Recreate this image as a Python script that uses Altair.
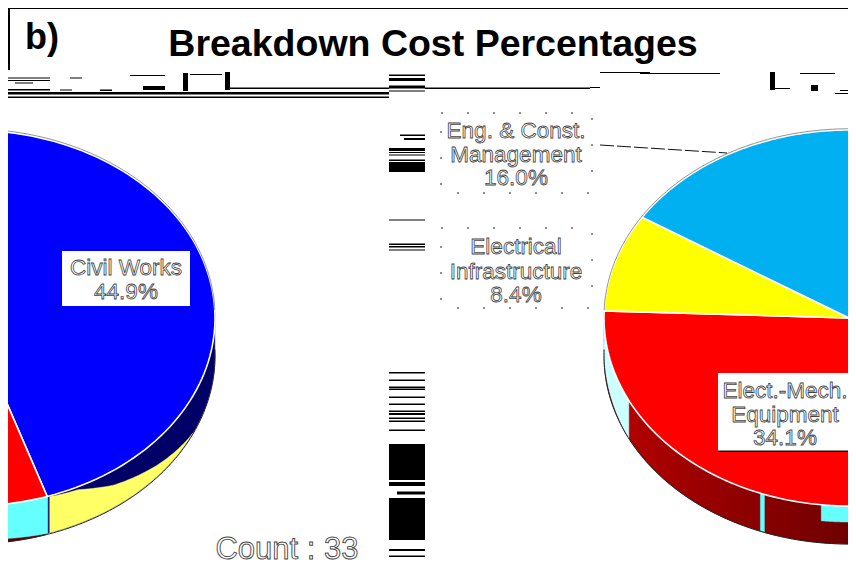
import numpy as np
import pandas as pd
import altair as alt

# drawn slice shares (percent of the ellipse), clockwise from 12 o'clock
slice_names = ["Civil Works", "Elect.-Mech. Equipment", "Electrical Infrastructure", "Eng. & Const. Management"]
slice_share = [44.9, 30.7, 8.4, 16.0]
slice_color = ["#0000FF", "#FF0000", "#FFFF00", "#00B0F0"]

pie_cx = [-30, 849]
pie_cy = 318
pie_rx = 245
pie_ry = 188

# side wall pieces: start deg, end deg, inner offset at both ends, outer offset, colour
wall_pieces = [
    (88, 162, 0, 0, 37, 37, "#000066"),
    (162, 272, 0, 0, 38, 38, "grad"),
    (244, 272, 0, 0, 38, 30, "#CCFFFF"),
    (161.5, 174, 0, 0, 37, 34, "#66FFFF"),
    (178, 186.5, 0, 0, 16, 16, "#66FFFF"),
    (200.2, 201.2, 0, 0, 38, 38, "#66FFFF"),
]
# light-yellow wall band: angle knots and upper-edge offset
band_deg = [114.6, 130, 144, 153.8, 161]
band_inner = [37, 26, 15, 3, 1]
band_outer = 37

# decoding debris: x, x2, y, y2
stripe_y = [(74.5, 76), (78, 81), (85.5, 88.5), (90.5, 91.5), (148, 151), (152, 153), (154.5, 155.5),
            (159.5, 161), (162, 172), (219.5, 220.5), (243.5, 245), (246, 247.5), (249.5, 250.5),
            (372, 373.5), (379.5, 381), (386.5, 388), (388.5, 390), (396.5, 398), (403.5, 405),
            (410.5, 412), (413, 415), (417.5, 419), (420.5, 422), (429.5, 431), (444, 480),
            (482, 486), (498, 540), (549, 551), (555.5, 557)]
extra_bars = [(400, 425, 134.5, 136), (404, 425, 138, 140), (397, 425, 491.5, 494.5),
              (8, 389, 92, 94.5), (8, 389, 96.5, 98), (230, 389, 87.5, 89), (425, 590, 87.5, 89),
              (8, 50, 77.5, 78.5), (15, 33, 82.5, 83.5), (8, 50, 80, 81), (8, 50, 89, 90.5),
              (70, 82, 77.5, 78.5), (60, 72, 89.5, 90.5), (100, 112, 89.5, 91), (130, 165, 75, 76),
              (143, 165, 86, 90), (183, 188, 73, 91), (190, 222, 74, 75), (225, 230, 72, 90),
              (230, 240, 88, 89), (600, 650, 72, 73), (640, 720, 73, 74), (770, 775, 72, 90),
              (775, 790, 88, 89), (800, 835, 73, 74), (811, 818, 85, 91), (835, 856, 93, 94),
              (840, 856, 90, 91), (590, 600, 87, 88)]

# white label boxes: x, x2, y, y2
box_plain = [(62, 190, 251, 306)]
box_dotted = [(441, 592, 113, 193), (441, 592, 228, 308)]
box_elect = [(718, 854, 373, 451)]

# label text: x, baseline-centre y, text, size
label_x = [126, 126, 516, 516, 516, 516, 516, 516, 785, 785, 785]
label_y = [268, 292, 131, 155, 178, 247, 272, 295, 391, 415, 438]
label_t = ["Civil Works", "44.9%", "Eng. & Const.", "Management", "16.0%", "Electrical", "Infrastructure",
           "8.4%", "Elect.-Mech.", "Equipment", "34.1%"]

sx = alt.Scale(domain=[8, 848], range=[0, 840], nice=False, zero=False)
sy = alt.Scale(domain=[8, 565], range=[0, 557], nice=False, zero=False)
X = lambda f="x": alt.X(f"{f}:Q", scale=sx, axis=None)
Y = lambda f="y": alt.Y(f"{f}:Q", scale=sy, axis=None)


def rim(cx, t, off=0.0):
    r = np.radians(t)
    return cx + pie_rx * np.sin(r), pie_cy - pie_ry * np.cos(r) + off


def poly(xs, ys, **mark):
    df = pd.DataFrame({"x": xs, "y": ys, "i": range(len(xs))})
    return alt.Chart(df).mark_line(clip=True, **mark).encode(x=X(), y=Y(), order="i:Q")


def wall(cx, a, b, i0, i1, o0, o1, color, edge=None):
    t = np.linspace(a, b, 50)
    xo, yo = rim(cx, t, np.linspace(o0, o1, 50))
    xi, yi = rim(cx, t[::-1], np.linspace(i1, i0, 50))
    return poly(list(xo) + list(xi) + [xo[0]], list(yo) + list(yi) + [yo[0]], fill=color, stroke=edge or color, strokeWidth=0.5)


gradient = alt.Gradient(gradient="linear", x1=1, x2=0, y1=0, y2=0,
                        stops=[alt.GradientStop(color="#580000", offset=0),
                               alt.GradientStop(color="#B80000", offset=1)])

layers = []
bars = pd.DataFrame([(389, 425, a, b) for a, b in stripe_y] + extra_bars, columns=["x", "x2", "y", "y2"])
layers.append(alt.Chart(bars).mark_rect(color="#000000", clip=True).encode(x=X(), x2="x2:Q", y=Y(), y2="y2:Q"))

frame = pd.DataFrame([(8, 848, 7, 9), (8, 10, 7, 70)], columns=["x", "x2", "y", "y2"])
layers.append(alt.Chart(frame).mark_rect(color="#000000").encode(x=X(), x2="x2:Q", y=Y(), y2="y2:Q"))

edges = np.cumsum([0] + slice_share) * 3.6
for cx in pie_cx:
    for a, b, i0, i1, o0, o1, c in wall_pieces:
        if c == "grad":
            layers.append(wall(cx, a, b, i0, i1, o0, o1, gradient, "#600000"))
        else:
            layers.append(wall(cx, a, b, i0, i1, o0, o1, c))
    t = np.linspace(band_deg[0], band_deg[-1], 60)
    xo, yo = rim(cx, t, band_outer)
    xi, yi = rim(cx, t[::-1], np.interp(t[::-1], band_deg, band_inner))
    layers.append(poly(list(xo) + list(xi) + [xo[0]], list(yo) + list(yi) + [yo[0]], fill="#FFFF66", stroke="#FFFF66", strokeWidth=0.5))
    # dark outer edge of the wall
    t = np.linspace(88, 272, 200)
    xo, yo = rim(cx, t, 38)
    layers.append(poly(list(xo), list(yo), stroke="#222222", strokeWidth=1))
    # top faces
    for k, col in enumerate(slice_color):
        t = np.linspace(edges[k], edges[k + 1], 90)
        xs, ys = rim(cx, t)
        layers.append(poly([cx] + list(xs) + [cx], [pie_cy] + list(ys) + [pie_cy], fill=col, stroke="#FFFFFF", strokeWidth=1.6))
    t = np.linspace(272, 448, 160)
    xs, ys = rim(cx, t, -1.2)
    layers.append(poly(list(xs), list(ys), stroke="#777777", strokeWidth=0.8))

leader = pd.DataFrame({"x": [600, 727], "y": [145, 153], "i": [0, 1]})
layers.append(alt.Chart(leader).mark_line(color="#111111", strokeWidth=1, strokeDash=[14, 3]).encode(x=X(), y=Y(), order="i:Q"))

boxes = pd.DataFrame(box_plain + box_elect, columns=["x", "x2", "y", "y2"])
layers.append(alt.Chart(boxes).mark_rect(color="#FFFFFF", clip=True).encode(x=X(), x2="x2:Q", y=Y(), y2="y2:Q"))
boxes2 = pd.DataFrame(box_dotted, columns=["x", "x2", "y", "y2"])
layers.append(alt.Chart(boxes2).mark_rect(fill="#FFFFFF", stroke="#222222", strokeWidth=1, strokeDash=[2, 24]).encode(x=X(), x2="x2:Q", y=Y(), y2="y2:Q"))
elect_rule = pd.DataFrame([(718, 854, 450.5, 452)], columns=["x", "x2", "y", "y2"])
layers.append(alt.Chart(elect_rule).mark_rect(color="#111111", clip=True).encode(x=X(), x2="x2:Q", y=Y(), y2="y2:Q"))

labels = pd.DataFrame({"x": label_x, "y": label_y, "t": label_t})
layers.append(alt.Chart(labels).mark_text(font="Liberation Sans", fontSize=22.5, fill="#FFFFFF", stroke="#444444", strokeWidth=0.8,
                                          align="center", baseline="middle").encode(x=X(), y=Y(), text="t:N"))

count = pd.DataFrame({"x": [287], "y": [550], "t": ["Count : 33"]})
layers.append(alt.Chart(count).mark_text(font="Liberation Sans", fontSize=31, fill="#FFFFFF", stroke="#444444", strokeWidth=0.9,
                                         align="center", baseline="middle").encode(x=X(), y=Y(), text="t:N"))

title = pd.DataFrame({"x": [433], "y": [45], "t": ["Breakdown Cost Percentages"]})
layers.append(alt.Chart(title).mark_text(font="Liberation Sans", fontSize=37.5, fontWeight="bold", color="#000000",
                                         align="center", baseline="middle").encode(x=X(), y=Y(), text="t:N"))
panel = pd.DataFrame({"x": [25], "y": [38], "t": ["b)"]})
layers.append(alt.Chart(panel).mark_text(font="Liberation Sans", fontSize=36, fontWeight="bold", color="#000000",
                                         align="left", baseline="middle").encode(x=X(), y=Y(), text="t:N"))

chart = alt.layer(*layers).properties(
    width=840, height=557, padding=0, autosize=alt.AutoSizeParams(type="none"), background="#FFFFFF"
).configure_view(stroke=None)

chart.save("out.html", embed_options={"renderer": "svg", "actions": False})
